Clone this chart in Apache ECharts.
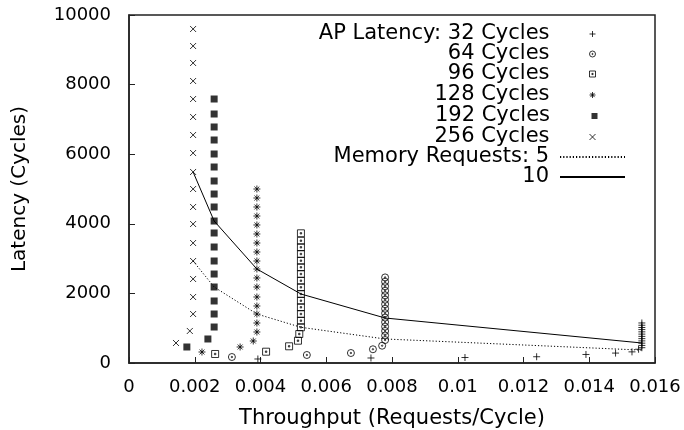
<!DOCTYPE html>
<html>
<head>
<meta charset="utf-8">
<script src="https://cdn.jsdelivr.net/npm/echarts@6/dist/echarts.min.js"></script>
<style>
html,body{margin:0;padding:0;background:#fff;}
#chart{width:684px;height:430px;}
</style>
</head>
<body>
<div id="chart"></div>
<script>
// ---- Data ----
const xTickLabels = ['0', '0.002', '0.004', '0.006', '0.008', '0.01', '0.012', '0.014', '0.016'];
const yTickLabels = ['0', '2000', '4000', '6000', '8000', '10000'];

const seriesNames = ['AP Latency: 32 Cycles', '64 Cycles', '96 Cycles', '128 Cycles', '192 Cycles', '256 Cycles', 'Memory Requests: 5', '10'];

const ap32Throughput = [0.00392, 0.00736, 0.01022, 0.0124, 0.0139, 0.0148, 0.0153, 0.0155, 0.0156, 0.0156, 0.0156, 0.0156, 0.0156, 0.0156, 0.0156, 0.0156, 0.0156, 0.0156, 0.0156, 0.0156];
const ap32Latency = [115, 144, 158, 180, 245, 285, 320, 395, 440, 505, 570, 635, 700, 765, 830, 895, 960, 1020, 1085, 1150];

const ap64Throughput = [0.00313, 0.00541, 0.00675, 0.00742, 0.0077, 0.00779, 0.00779, 0.00779, 0.00779, 0.00779, 0.00779, 0.00779, 0.00779, 0.00779, 0.00779, 0.00779, 0.00779, 0.00779, 0.00779, 0.00779];
const ap64Latency = [172, 230, 287, 395, 497, 660, 790, 920, 1045, 1175, 1305, 1430, 1560, 1690, 1820, 1945, 2075, 2205, 2335, 2460];

const ap96Throughput = [0.00262, 0.00417, 0.00487, 0.00514, 0.00518, 0.00523, 0.00523, 0.00523, 0.00523, 0.00523, 0.00523, 0.00523, 0.00523, 0.00523, 0.00523, 0.00523, 0.00523, 0.00523, 0.00523, 0.00523];
const ap96Latency = [259, 325, 480, 641, 833, 1026, 1216, 1408, 1601, 1790, 1983, 2175, 2365, 2557, 2750, 2940, 3132, 3325, 3514, 3727];

const ap128Throughput = [0.00222, 0.00338, 0.00378, 0.00389, 0.00389, 0.00389, 0.00389, 0.00389, 0.00389, 0.00389, 0.00389, 0.00389, 0.00389, 0.00389, 0.00389, 0.00389, 0.00389, 0.00389, 0.00389, 0.00389];
const ap128Latency = [316, 460, 632, 891, 1149, 1408, 1638, 1897, 2184, 2443, 2701, 2931, 3190, 3448, 3707, 3966, 4224, 4483, 4741, 5000];

const ap192Throughput = [0.00176, 0.0024, 0.00259, 0.00259, 0.00259, 0.00259, 0.00259, 0.00259, 0.00259, 0.00259, 0.00259, 0.00259, 0.00259, 0.00259, 0.00259, 0.00259, 0.00259, 0.00259, 0.00259, 0.00259];
const ap192Latency = [460, 690, 1034, 1408, 1782, 2184, 2557, 2931, 3333, 3736, 4080, 4483, 4856, 5230, 5632, 6006, 6408, 6782, 7155, 7586];

const ap256Throughput = [0.00143, 0.00185, 0.00195, 0.00195, 0.00195, 0.00195, 0.00195, 0.00195, 0.00195, 0.00195, 0.00195, 0.00195, 0.00195, 0.00195, 0.00195, 0.00195, 0.00195, 0.00195, 0.00195];
const ap256Latency = [575, 920, 1408, 1897, 2414, 2931, 3448, 3994, 4483, 5000, 5489, 6034, 6552, 7069, 7586, 8103, 8621, 9109, 9598];

const memThroughput = [0.00195, 0.00259, 0.00389, 0.00523, 0.00779, 0.0156];
const mem5Latency = [2931, 2184, 1408, 1026, 690, 370];
const mem10Latency = [5489, 4080, 2701, 1983, 1293, 575];

// ---- Build ----
const pairs = (xs, ys) => xs.map((x, i) => [x, ys[i]]);
const FONT = 'DejaVu Sans';

const SYM = {
  plus: 'path://M0,5L10,5M5,0L5,10',
  circleDot: 'path://M0,5A5,5,0,1,1,10,5A5,5,0,1,1,0,5ZM4,5A1,1,0,1,1,6,5A1,1,0,1,1,4,5Z',
  squareDot: 'path://M0,0L10,0L10,10L0,10ZM4,4L6,4L6,6L4,6Z',
  star: 'path://M0,5L10,5M5,0L5,10M1.5,1.5L8.5,8.5M8.5,1.5L1.5,8.5',
  box: 'path://M0,0L10,0L10,10L0,10Z',
  cross: 'path://M0,0L10,10M10,0L0,10'
};
const strokeStyle = { color: 'none', borderColor: '#000', borderWidth: 1 };

function scatter(name, xs, ys, symbol, size, style) {
  return {
    name, type: 'scatter', data: pairs(xs, ys), symbol, symbolSize: size,
    symbolKeepAspect: true, itemStyle: style, silent: true
  };
}

const series = [
  scatter(seriesNames[0], ap32Throughput, ap32Latency, SYM.plus, 7, strokeStyle),
  scatter(seriesNames[1], ap64Throughput, ap64Latency, SYM.circleDot, 7, strokeStyle),
  scatter(seriesNames[2], ap96Throughput, ap96Latency, SYM.squareDot, 7, strokeStyle),
  scatter(seriesNames[3], ap128Throughput, ap128Latency, SYM.star, 7, strokeStyle),
  scatter(seriesNames[4], ap192Throughput, ap192Latency, SYM.box, 7, { color: '#000', borderWidth: 0 }),
  scatter(seriesNames[5], ap256Throughput, ap256Latency, SYM.cross, 6, strokeStyle),
  { name: seriesNames[6], type: 'line', data: pairs(memThroughput, mem5Latency), symbol: 'none',
    lineStyle: { color: '#000', width: 1, type: [1.2, 2] }, itemStyle: { color: '#000' }, silent: true },
  { name: seriesNames[7], type: 'line', data: pairs(memThroughput, mem10Latency), symbol: 'none',
    lineStyle: { color: '#000', width: 1 }, itemStyle: { color: '#000' }, silent: true }
];

const rowCenters = [32, 52, 72, 93, 114, 135, 155, 175];
const legends = seriesNames.map((n, i) => {
  const isLine = i >= 6;
  const isBox = i === 4;
  return {
    data: [n],
    orient: 'vertical',
    right: isLine ? 58 : (isBox ? 86.5 : 86),
    top: rowCenters[i] - 8.5,
    align: 'right',
    padding: 0,
    itemWidth: isLine ? 65 : 6,
    itemHeight: 6,
    selectedMode: false,
    itemStyle: isLine ? { color: 'none', borderWidth: 0 } : { borderWidth: 1 },
    textStyle: { fontFamily: FONT, fontSize: 21, color: '#000', lineHeight: 20,
      padding: [0, isLine ? 6 : (isBox ? 36.5 : 35), 0, 0] }
  };
});

const chart = echarts.init(document.getElementById('chart'));
chart.setOption({
  animation: false,
  backgroundColor: '#fff',
  grid: { left: 129, right: 29, top: 15, bottom: 67, outerBoundsMode: 'none', containLabel: false,
    show: true, borderColor: '#222', borderWidth: 1.5 },
  legend: legends,
  xAxis: {
    type: 'value', min: 0, max: 0.016, interval: 0.002,
    name: 'Throughput (Requests/Cycle)', nameLocation: 'middle', nameGap: 45,
    nameTextStyle: { fontFamily: FONT, fontSize: 21, color: '#000' },
    axisLine: { show: true, lineStyle: { color: '#222', width: 1.5 } },
    axisTick: { show: true, inside: true, length: 6, lineStyle: { color: '#222' } },
    axisLabel: { fontFamily: FONT, fontSize: 18, color: '#000', margin: 15,
      formatter: v => xTickLabels[Math.round(v / 0.002)] },
    splitLine: { show: false }
  },
  yAxis: {
    type: 'value', min: 0, max: 10000, interval: 2000,
    name: 'Latency (Cycles)', nameLocation: 'middle', nameGap: 99,
    nameTextStyle: { fontFamily: FONT, fontSize: 20, color: '#000' },
    axisLine: { show: true, lineStyle: { color: '#222', width: 1.5 } },
    axisTick: { show: true, inside: true, length: 6, lineStyle: { color: '#222' } },
    axisLabel: { fontFamily: FONT, fontSize: 18, color: '#000', margin: 18,
      formatter: v => yTickLabels[Math.round(v / 2000)] },
    splitLine: { show: false }
  },
  series
});
</script>
</body>
</html>
